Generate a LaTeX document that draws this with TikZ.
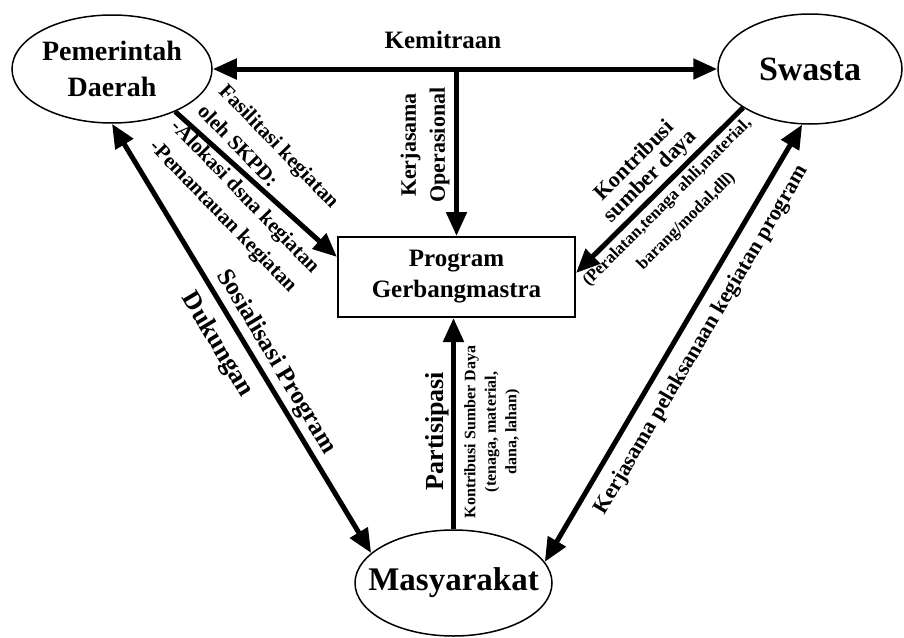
\documentclass[tikz,border=0pt]{standalone}
\usepackage{fontspec}
\setmainfont{Liberation Serif}
\usepackage{tikz}
\usetikzlibrary{shapes.geometric}
\usetikzlibrary{arrows.meta}

\begin{document}
\begin{tikzpicture}[x=1pt,y=-1pt,
    actor/.style={draw,ellipse,line width=1.5pt,inner sep=0pt,inner xsep=-40pt,align=center},
    progbox/.style={draw,line width=2pt,minimum width=237pt,minimum height=80pt,align=center},
    flow/.style={line width=5pt,-{Triangle[length=24pt,width=20pt]}},
    twoway/.style={line width=5pt,{Triangle[length=24pt,width=20pt]}-{Triangle[length=24pt,width=20pt]}},
    lbl/.style={inner sep=0pt}]
        \useasboundingbox (0,0) rectangle (904,637);

        % the three actors
        \node[actor,minimum width=200pt,minimum height=108pt,font=\bfseries\fontsize{28}{36}\selectfont] (pd) at (112,69) {Pemerintah\\Daerah};
        \node[actor,minimum width=184pt,minimum height=110pt,font=\bfseries\fontsize{34}{40}\selectfont] (sw) at (810,69) {Swasta};
        \node[actor,minimum width=197pt,minimum height=106pt,font=\bfseries\fontsize{33}{40}\selectfont] (ms) at (453.5,583) {Masyarakat};
        % the program
        \node[progbox,font=\bfseries\fontsize{25}{31}\selectfont] (prog) at (456.5,277) {Program\\Gerbangmastra};

        % top line
        \draw[twoway] (pd.east) -- (sw.west);
        \coordinate (kj) at (pd.east -| prog.north);
        \draw[flow] (kj) -- (prog.north);
        \node[lbl,font=\bfseries\fontsize{25}{30}\selectfont] (kmt) at (443,40) {Kemitraan};
        \node[lbl,rotate=90,align=center,font=\bfseries\fontsize{22}{29}\selectfont] (kop) at (425,145) {Kerjasama\\Operasional};

        % left side
        \draw[flow] (pd.-34) -- ([yshift=20pt]prog.west);
        \node[lbl,rotate=-46,align=left,font=\bfseries\fontsize{21}{29.5}\selectfont] (fas) at (255,187) {\hspace*{8pt}Fasilitasi kegiatan\\\hspace*{8pt}oleh SKPD:\\-Alokasi dsna kegiatan\\-Pemantauan kegiatan};
        \draw[twoway] (pd.south) -- (ms.160);
        \node[lbl,rotate=-59,font=\bfseries\fontsize{25}{30}\selectfont] (sos) at (276,362) {Sosialisasi Program};
        \node[lbl,rotate=-59,font=\bfseries\fontsize{26}{30}\selectfont] (dkg) at (217,345) {Dukungan};

        % right side
        \draw[flow] (sw.210) -- ([yshift=4pt]prog.east);
        \node[lbl,rotate=45,align=center,font=\bfseries\fontsize{22}{22}\selectfont] (ksd) at (643,169) {Kontribusi\\sumber daya};
        \node[lbl,rotate=45,align=center,font=\bfseries\fontsize{17}{27}\selectfont] (alat) at (677,212) {(Peralatan,tenaga ahli,material,\\barang/modal,dll)};
        \draw[twoway] (ms.13) -- (sw.262);
        \node[lbl,rotate=59.5,font=\bfseries\fontsize{22}{30}\selectfont] (kpk) at (702,340) {Kerjasama pelaksanaan kegiatan program};

        % bottom line
        \draw[flow] (ms.north) -- (ms.north |- prog.south);
        \node[lbl,rotate=90,font=\bfseries\fontsize{26}{30}\selectfont] (par) at (437,431) {Partisipasi};
        \node[lbl,rotate=90,align=center,font=\bfseries\fontsize{16}{20.5}\selectfont] (ksm) at (492,432) {Kontribusi Sumber Daya\\(tenaga, material,\\dana, lahan)};
\end{tikzpicture}
\end{document}
